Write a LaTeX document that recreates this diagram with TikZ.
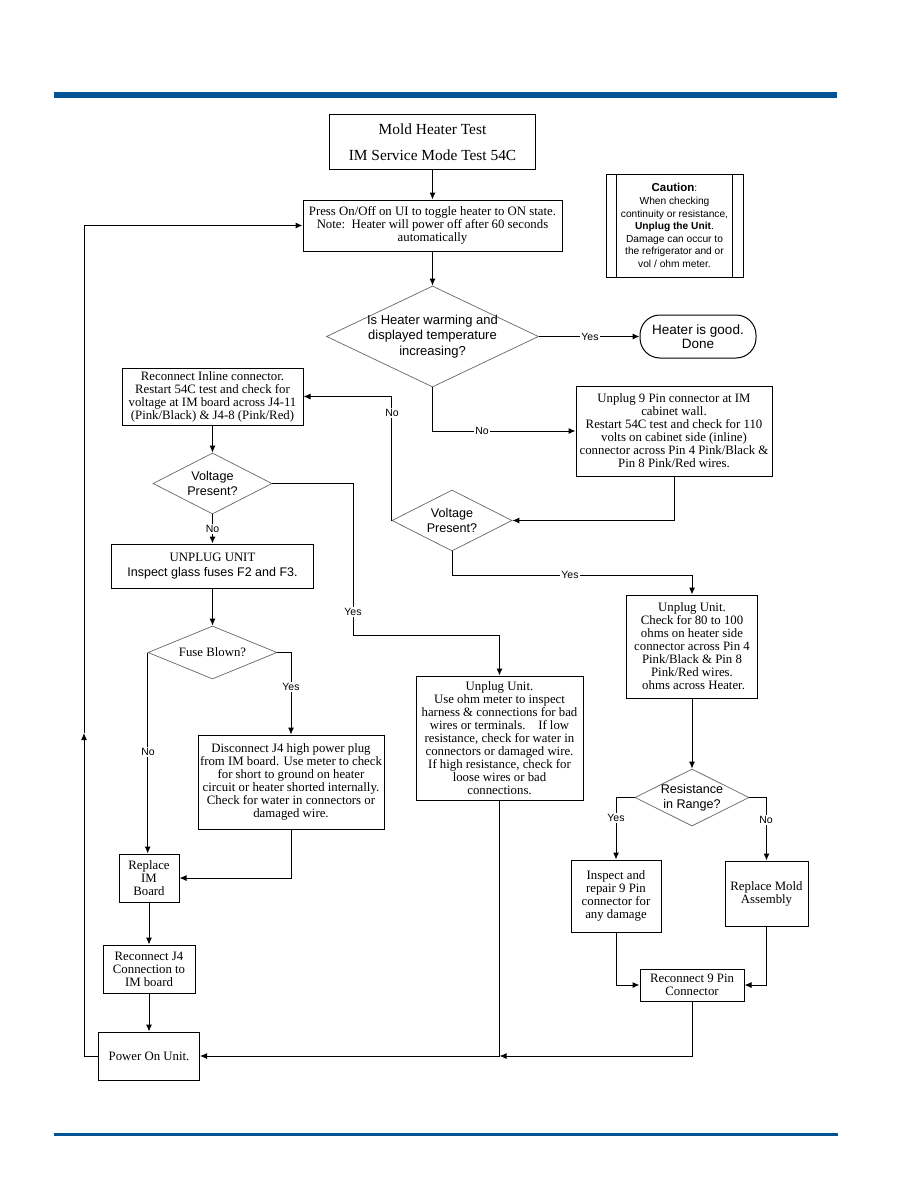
\documentclass[tikz,border=0pt]{standalone}
\usepackage{fontspec}
\setmainfont{Liberation Serif}
\setsansfont{Liberation Sans}
\usetikzlibrary{shapes.geometric,arrows.meta}
\definecolor{barblue}{RGB}{0,84,150}

\begin{document}
\begin{tikzpicture}[x=1pt,y=-1pt,
  >={Latex[length=7pt,width=6pt]},
  box/.style={draw,line width=1pt,inner sep=0pt,align=center,font=\fontsize{12.8}{13}\selectfont},
  decide/.style={draw=black!60,line width=0.7pt,diamond,aspect=2,inner sep=-4pt,align=center,font=\sffamily\fontsize{12.6}{15}\selectfont},
  lbl/.style={fill=white,inner sep=1pt,font=\sffamily\fontsize{10.5}{12}\selectfont}]
\useasboundingbox (0,0) rectangle (918,1188);
\fill[white] (0,0) rectangle (918,1188);
\fill[barblue] (54,92) rectangle (837,98);
\fill[barblue] (54,1133) rectangle (838,1136);

\node[box,minimum width=206pt,minimum height=54pt,font=\fontsize{15.4}{26}\selectfont] (title) at (432.5,142) {Mold Heater Test\\IM Service Mode Test 54C};
\node[box,minimum width=259pt,minimum height=51pt] (press) at (432.5,225.5) {Press On/Off on UI to toggle heater to ON state.\\Note:\ \ Heater will power off after 60 seconds\\automatically};
\node[box,minimum width=137pt,minimum height=103pt,font=\sffamily\fontsize{10.2}{12.6}\selectfont] (caution) at (674.5,225.5) {{\fontsize{11.5}{12.6}\selectfont\textbf{Caution}}:\\When checking\\continuity or resistance,\\\textbf{Unplug the Unit}.\\Damage can occur to\\the refrigerator and or\\vol / ohm meter.};
\draw[line width=1pt] ([xshift=11pt]caution.north west) -- ([xshift=11pt]caution.south west);
\draw[line width=1pt] ([xshift=-11pt]caution.north east) -- ([xshift=-11pt]caution.south east);
\node[decide,minimum width=212pt,minimum height=101pt,font=\sffamily\fontsize{13}{15.5}\selectfont] (heat) at (432.5,336.5) {Is Heater warming and\\displayed temperature\\increasing?};
\node[draw,line width=1pt,rounded corners=20pt,minimum width=116pt,minimum height=43pt,inner sep=0pt,align=center,font=\sffamily\fontsize{13.5}{14.5}\selectfont] (done) at (698,336.5) {Heater is good.\\Done};
\node[box,minimum width=196pt,minimum height=90pt] (pin9) at (674,431) {Unplug 9 Pin connector at IM\\cabinet wall.\\Restart 54C test and check for 110\\volts on cabinet side (inline)\\connector across Pin 4 Pink/Black \&\\Pin 8 Pink/Red wires.};
\node[box,minimum width=181pt,minimum height=57pt] (inline) at (212.5,396.5) {Reconnect Inline connector.\\Restart 54C test and check for\\voltage at IM board across J4-11\\(Pink/Black) \& J4-8 (Pink/Red)};
\node[decide,minimum width=119pt,minimum height=61pt] (vp1) at (212.5,483.5) {Voltage\\Present?};
\node[decide,minimum width=120pt,minimum height=61pt] (vp2) at (452,520.5) {Voltage\\Present?};
\node[box,minimum width=202pt,minimum height=44pt,font=\fontsize{12.8}{14.7}\selectfont] (unplug) at (212.5,566) {UNPLUG UNIT\\\sffamily\fontsize{12.5}{14.7}\selectfont Inspect glass fuses F2 and F3.};
\node[decide,minimum width=129pt,minimum height=53pt,font=\fontsize{12.8}{15}\selectfont] (fuse) at (212.5,652.5) {Fuse Blown?};
\node[box,minimum width=186pt,minimum height=94pt] (disc) at (291,782) {Disconnect J4 high power plug\\from IM board. Use meter to check\\for short to ground on heater\\circuit or heater shorted internally.\\Check for water in connectors or\\damaged wire.};
\node[box,minimum width=167pt,minimum height=124pt] (meter) at (499.5,738) {Unplug Unit.\\Use ohm meter to inspect\\harness \& connections for bad\\wires or terminals.\ \ \ \ If low\\resistance, check for water in\\connectors or damaged wire.\\If high resistance, check for\\loose wires or bad\\connections.};
\node[box,minimum width=131pt,minimum height=103pt] (ohms) at (692,646.5) {Unplug Unit.\\Check for 80 to 100\\ohms on heater side\\connector across Pin 4\\Pink/Black \& Pin 8\\Pink/Red wires.\\\ ohms across Heater.};
\node[decide,minimum width=114pt,minimum height=57pt] (range) at (692,797.5) {Resistance\\in Range?};
\node[box,minimum width=90pt,minimum height=72pt] (insp) at (616,896) {Inspect and\\repair 9 Pin\\connector for\\any damage};
\node[box,minimum width=83pt,minimum height=65pt] (mold) at (766.5,893.5) {Replace Mold\\Assembly};
\node[box,minimum width=104pt,minimum height=32pt] (pin9c) at (692,985) {Reconnect 9 Pin\\Connector};
\node[box,minimum width=60pt,minimum height=48pt] (imb) at (149,878) {Replace\\IM\\Board};
\node[box,minimum width=92pt,minimum height=48pt] (j4) at (149,969) {Reconnect J4\\Connection to\\IM board};
\node[box,minimum width=101pt,minimum height=48pt] (pwr) at (149,1056) {Power On Unit.};
\coordinate (join) at (499.5,1056);
\coordinate (loopup) at (84,733);

\begin{scope}[line width=1pt]
\draw[->] (title) -- (press);
\draw[->] (press) -- (heat);
\draw[->] (heat) -- (done);
\draw[->] (heat.south) |- (pin9.west);
\draw[->] (pin9.south) |- (vp2.east);
\draw[->] (vp2.west) |- (inline.east);
\draw[->] (vp2.south) -- ++(0,24) -| (ohms.north);
\draw[->] (inline) -- (vp1);
\draw[->] (vp1) -- (unplug);
\draw[->] (vp1.east) -| ++(81,152) -| (meter.north);
\draw[->] (unplug) -- (fuse);
\draw[->] (fuse.west) -- (fuse.west |- imb.north);
\draw[->] (fuse.east) -| (disc.north);
\draw[->] (disc.south) |- (imb.east);
\draw[->] (imb) -- (j4);
\draw[->] (j4) -- (pwr);
\draw[->] (ohms) -- (range);
\draw[->] (range.west) -| (insp.north);
\draw[->] (range.east) -| (mold.north);
\draw[->] (insp.south) |- (pin9c.west);
\draw[->] (mold.south) |- (pin9c.east);
\draw[->] (meter.south) |- (pwr.east);
\draw[->] (pin9c.south) |- (join);
\draw[->] (pwr.west) -| (loopup);
\draw[->] (loopup) |- (press.west);
\end{scope}

\node[lbl] (yes1) at (590,336.5) {Yes};
\node[lbl] (no1) at (482,431) {No};
\node[lbl] (no2) at (392,413) {No};
\node[lbl] (yes2) at (570,575) {Yes};
\node[lbl] (no3) at (212.5,529) {No};
\node[lbl] (yes3) at (353,612) {Yes};
\node[lbl] (no4) at (148,752) {No};
\node[lbl] (yes4) at (291,687) {Yes};
\node[lbl] (yes5) at (616,818) {Yes};
\node[lbl] (no5) at (766,820) {No};
\end{tikzpicture}
\end{document}
